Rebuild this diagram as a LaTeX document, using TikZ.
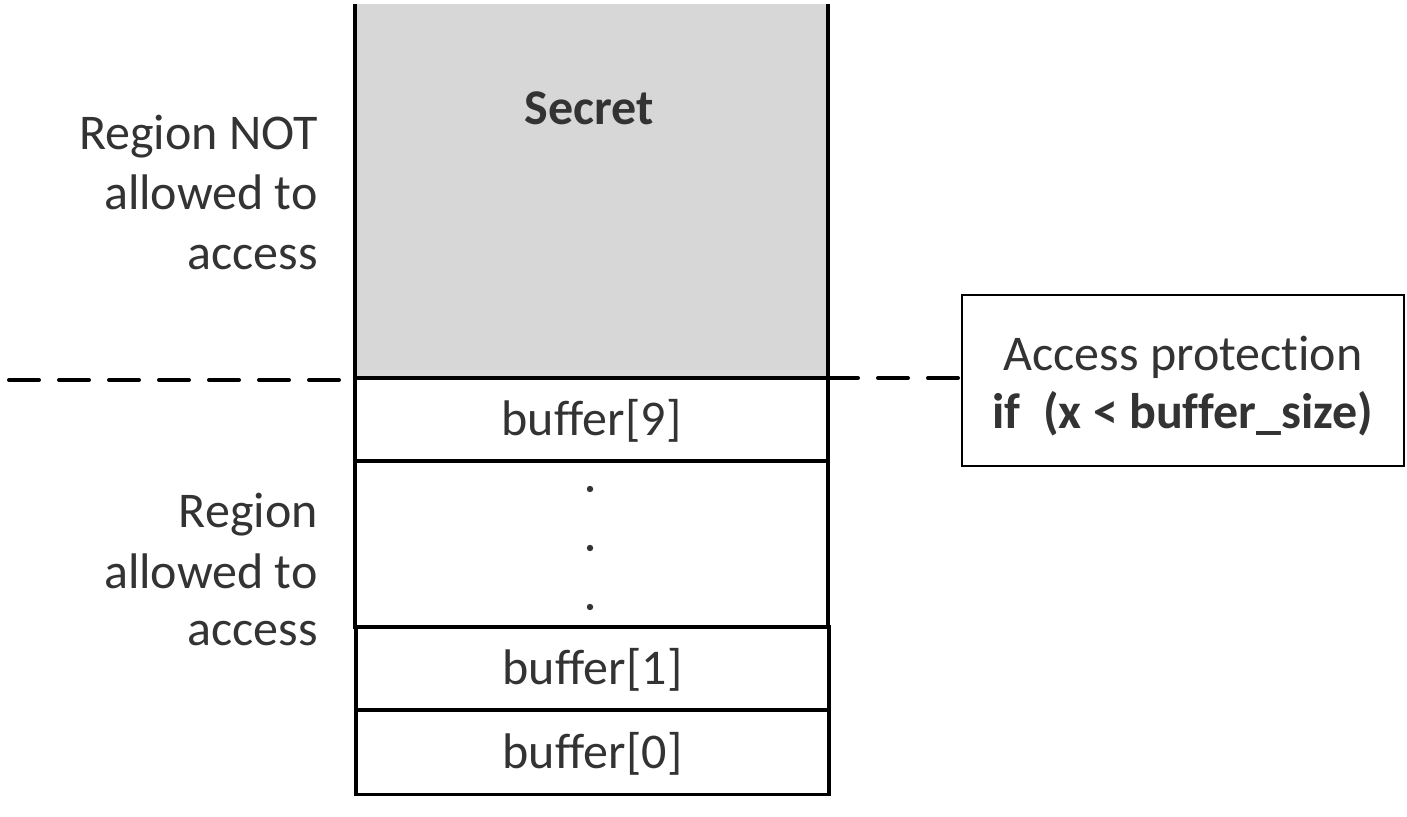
\documentclass[tikz,border=0pt]{standalone}
\usepackage{fontspec}
\setmainfont{Carlito}[Ligatures={NoCommon}]
\begin{document}
\begin{tikzpicture}[x=0.5pt,y=-0.5pt]
\definecolor{txt}{HTML}{333333}
\definecolor{secretgray}{HTML}{D7D7D7}
\tikzset{
  lbl/.style={font=\fontsize{25}{30}\selectfont, text=txt, inner sep=0pt},
  cell/.style={draw=black, line width=1.8pt, fill=white, minimum width=236.5pt, inner sep=0pt, outer sep=0pt,
    font=\fontsize{25}{30}\selectfont, text=txt, text depth=2pt},
  secretcell/.style={fill=secretgray, draw=none, minimum width=236.5pt, minimum height=187pt, inner sep=0pt, outer sep=0pt},
  wall/.style={line width=2pt, draw=black},
  dashline/.style={line width=2pt, line cap=round, dash pattern=on 15pt off 10pt},
  protbox/.style={draw=black, line width=1.2pt, minimum width=221pt, minimum height=85.5pt, inner sep=0pt, outer sep=0pt,
    align=center, font=\fontsize{25}{29}\selectfont, text=txt},
  dotmark/.style={circle, fill=txt, inner sep=0pt, minimum size=3.2pt}
}
\useasboundingbox (0,0) rectangle (1407,817);

% secret region
\node[secretcell] (secret) at (591.5,191) {};
\node[lbl, font=\fontsize{25}{30}\selectfont\bfseries, anchor=base] (secrettxt) at (589,125) {Secret};
\draw[wall] (secret.north west) -- (secret.south west);
\draw[wall] (secret.north east) -- (secret.south east);

% buffer cells
\node[cell, minimum height=41.5pt] (b9) at (591.5,419.5) {buffer[9]};
\node[cell, minimum height=83pt] (bdots) at (591.5,544) {};
\node[cell, minimum height=41.5pt] (b1) at (592.5,668.5) {buffer[1]};
\node[cell, minimum height=42pt] (b0) at (592.5,752.5) {buffer[0]};

\node[dotmark] (d1) at (590,489) {};
\node[dotmark] (d2) at (590,548) {};
\node[dotmark] (d3) at (590,607) {};

% access protection box
\node[protbox] (prot) at (1183,380.5) {\rule{0pt}{23pt}Access protection\\\textbf{if\ \ (x < buffer\_size)}};

% dashed boundary
\coordinate (dl) at (9,380);
\draw[dashline] (dl) -- (dl -| b9.north west);
\draw[line width=1.8pt] (b9.north west) -- (b9.north east);
\draw[dashline] (b9.north east) -- (b9.north east -| prot.west);

% left labels
\node[lbl, anchor=base east] (l1) at (318,150) {Region NOT};
\node[lbl, anchor=base east] (l2) at (318,210) {allowed to};
\node[lbl, anchor=base east] (l3) at (318,270) {access};
\node[lbl, anchor=base east] (l4) at (318,528) {Region};
\node[lbl, anchor=base east] (l5) at (318,588) {allowed to};
\node[lbl, anchor=base east] (l6) at (318,645) {access};
\end{tikzpicture}
\end{document}
